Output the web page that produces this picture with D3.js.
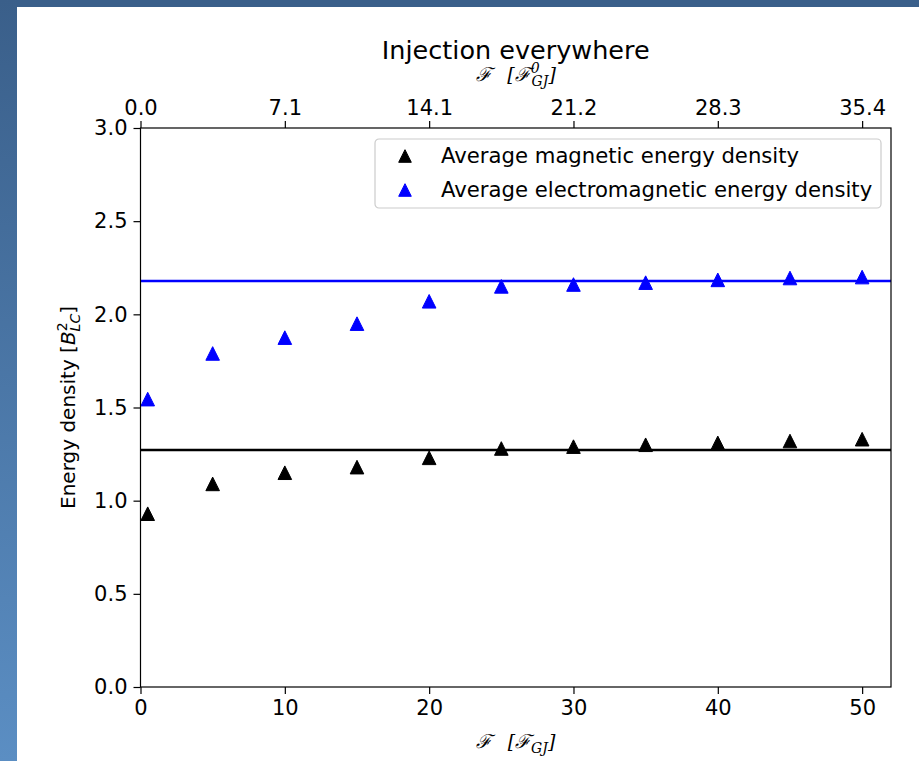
<!DOCTYPE html>
<html>
<head>
<meta charset="utf-8">
<script src="https://cdn.jsdelivr.net/npm/d3@7"></script>
<style>
  html, body { margin: 0; padding: 0; background: #fff; }
  svg { display: block; }
  text { font-family: "DejaVu Sans", sans-serif; }
</style>
</head>
<body>
<div id="chart"></div>
<script>
// Forcing values (x) and measured energy densities
var forcing = [0.5, 5, 10, 15, 20, 25, 30, 35, 40, 45, 50];
var magnetic = [0.93, 1.09, 1.15, 1.18, 1.23, 1.28, 1.29, 1.30, 1.31, 1.32, 1.33];
var electromagnetic = [1.545, 1.79, 1.875, 1.95, 2.07, 2.15, 2.16, 2.17, 2.185, 2.195, 2.20];
var magneticLevel = 1.272;   // horizontal reference lines
var emLevel = 2.179;

var bottomTicks = [0, 10, 20, 30, 40, 50];
var topTickLabels = ["0.0", "7.1", "14.1", "21.2", "28.3", "35.4"];
var yTicks = [0, 0.5, 1.0, 1.5, 2.0, 2.5, 3.0];

var seriesNames = ["Average magnetic energy density", "Average electromagnetic energy density"];
var magColor = "black";
var emColor = "#0000ff";

var width = 919, height = 761;
var margin = { top: 128, right: 28, bottom: 74, left: 140.5 };
var innerWidth = width - margin.left - margin.right;
var innerHeight = height - margin.top - margin.bottom;

var x = d3.scaleLinear().domain([0, 52]).range([0, innerWidth]);
var y = d3.scaleLinear().domain([0, 3]).range([innerHeight, 0]);

var root = d3.select("#chart")
    .append("svg")
    .attr("width", width)
    .attr("height", height);

// blue window frame behind the figure (top strip + left gradient strip)
var grad = root.append("defs").append("linearGradient")
    .attr("id", "sideGrad").attr("x1", 0).attr("y1", 0).attr("x2", 0).attr("y2", 1);
grad.append("stop").attr("offset", "0%").attr("stop-color", "#3a5f8a");
grad.append("stop").attr("offset", "100%").attr("stop-color", "#5b8ec3");
root.append("rect").attr("width", width).attr("height", height).attr("fill", "white");
root.append("rect").attr("width", width).attr("height", 7).attr("fill", "#3a5f8a");
root.append("rect").attr("width", 17).attr("height", height).attr("fill", "url(#sideGrad)");

var svg = root.append("g")
    .attr("transform", `translate(${margin.left}, ${margin.top})`);

// triangle marker like matplotlib '^'
function tri(s) {
    return `M0,${-s} L${s},${s} L${-s},${s} Z`;
}

// horizontal level lines
svg.append("line")
    .attr("x1", 0).attr("x2", innerWidth)
    .attr("y1", y(emLevel)).attr("y2", y(emLevel))
    .attr("stroke", emColor).attr("stroke-width", 2.6);
svg.append("line")
    .attr("x1", 0).attr("x2", innerWidth)
    .attr("y1", y(magneticLevel)).attr("y2", y(magneticLevel))
    .attr("stroke", magColor).attr("stroke-width", 2.6);

// points
svg.selectAll(".mag").data(magnetic).enter().append("path")
    .attr("class", "mag")
    .attr("d", tri(6.8))
    .attr("transform", (d, i) => `translate(${x(forcing[i])}, ${y(d)})`)
    .attr("fill", magColor).attr("stroke", magColor).attr("stroke-width", 1);
svg.selectAll(".em").data(electromagnetic).enter().append("path")
    .attr("class", "em")
    .attr("d", tri(6.8))
    .attr("transform", (d, i) => `translate(${x(forcing[i])}, ${y(d)})`)
    .attr("fill", emColor).attr("stroke", emColor).attr("stroke-width", 1);

// axes
var xAxis = svg.append("g")
    .attr("transform", `translate(0, ${innerHeight})`)
    .call(d3.axisBottom(x).tickValues(bottomTicks).tickFormat(d3.format("d")).tickSize(7).tickPadding(6));
var xTop = svg.append("g")
    .call(d3.axisTop(x).tickValues(bottomTicks).tickFormat((d, i) => topTickLabels[i]).tickSize(7).tickPadding(6));
var yAxis = svg.append("g")
    .call(d3.axisLeft(y).tickValues(yTicks).tickFormat(d3.format(".1f")).tickSize(7).tickPadding(6));

[xAxis, xTop, yAxis].forEach(function (a) {
    a.select(".domain").remove();
    a.selectAll("line").attr("stroke", "black").attr("stroke-width", 1.2);
    a.selectAll("text").attr("fill", "black").style("font-size", "21px")
        .style("font-family", "DejaVu Sans, sans-serif");
});

// frame
svg.append("rect")
    .attr("x", 0).attr("y", 0)
    .attr("width", innerWidth).attr("height", innerHeight)
    .attr("fill", "none").attr("stroke", "black").attr("stroke-width", 1.2);

// axis labels
var xl = svg.append("text")
    .attr("x", innerWidth / 2)
    .attr("y", innerHeight + 61)
    .attr("text-anchor", "middle")
    .attr("fill", "black")
    .style("font-size", "19px")
    .style("font-family", "DejaVu Serif, serif")
    .style("font-style", "italic");
xl.append("tspan").text("\u2131\u2002 [\u2131");
xl.append("tspan").attr("dy", 5).style("font-size", "14px").text("GJ");
xl.append("tspan").attr("dy", -5).text("]");

var tl = svg.append("text")
    .attr("x", innerWidth / 2)
    .attr("y", -47)
    .attr("text-anchor", "middle")
    .attr("fill", "black")
    .style("font-size", "19px")
    .style("font-family", "DejaVu Serif, serif")
    .style("font-style", "italic");
tl.append("tspan").text("\u2131\u2002 [\u2131");
tl.append("tspan").attr("dy", -8).style("font-size", "14px").text("0");
tl.append("tspan").attr("dx", -8).attr("dy", 13).style("font-size", "14px").text("GJ");
tl.append("tspan").attr("dy", -5).text("]");

svg.append("text")
    .attr("x", innerWidth / 2)
    .attr("y", -69)
    .attr("text-anchor", "middle")
    .attr("fill", "black")
    .style("font-size", "25.5px")
    .text("Injection everywhere");

var yl = svg.append("text")
    .attr("transform", "rotate(-90)")
    .attr("x", -innerHeight / 2)
    .attr("y", -66)
    .attr("text-anchor", "middle")
    .attr("fill", "black")
    .style("font-size", "20px");
yl.append("tspan").text("Energy density [");
yl.append("tspan").style("font-style", "italic").text("B");
yl.append("tspan").attr("dy", -8).style("font-size", "14px").text("2");
yl.append("tspan").attr("dx", -9).attr("dy", 13).style("font-size", "14px").style("font-style", "italic").text("LC");
yl.append("tspan").attr("dy", -5).text("]");

// legend
var legW = 506, legH = 69;
var legend = svg.append("g")
    .attr("transform", `translate(${innerWidth - 10 - legW}, 11)`);
legend.append("rect")
    .attr("width", legW).attr("height", legH)
    .attr("rx", 4)
    .attr("fill", "white").attr("fill-opacity", 0.8)
    .attr("stroke", "#cccccc").attr("stroke-width", 1.2);

var legColors = [magColor, emColor];
seriesNames.forEach(function (name, i) {
    var cy = 17 + i * 34;
    legend.append("path")
        .attr("d", tri(6.3))
        .attr("transform", `translate(30, ${cy})`)
        .attr("fill", legColors[i]).attr("stroke", legColors[i]).attr("stroke-width", 1);
    legend.append("text")
        .attr("x", 66)
        .attr("y", cy)
        .attr("dy", "0.35em")
        .attr("fill", "black")
        .style("font-size", "21.2px")
        .text(name);
});
</script>
</body>
</html>
